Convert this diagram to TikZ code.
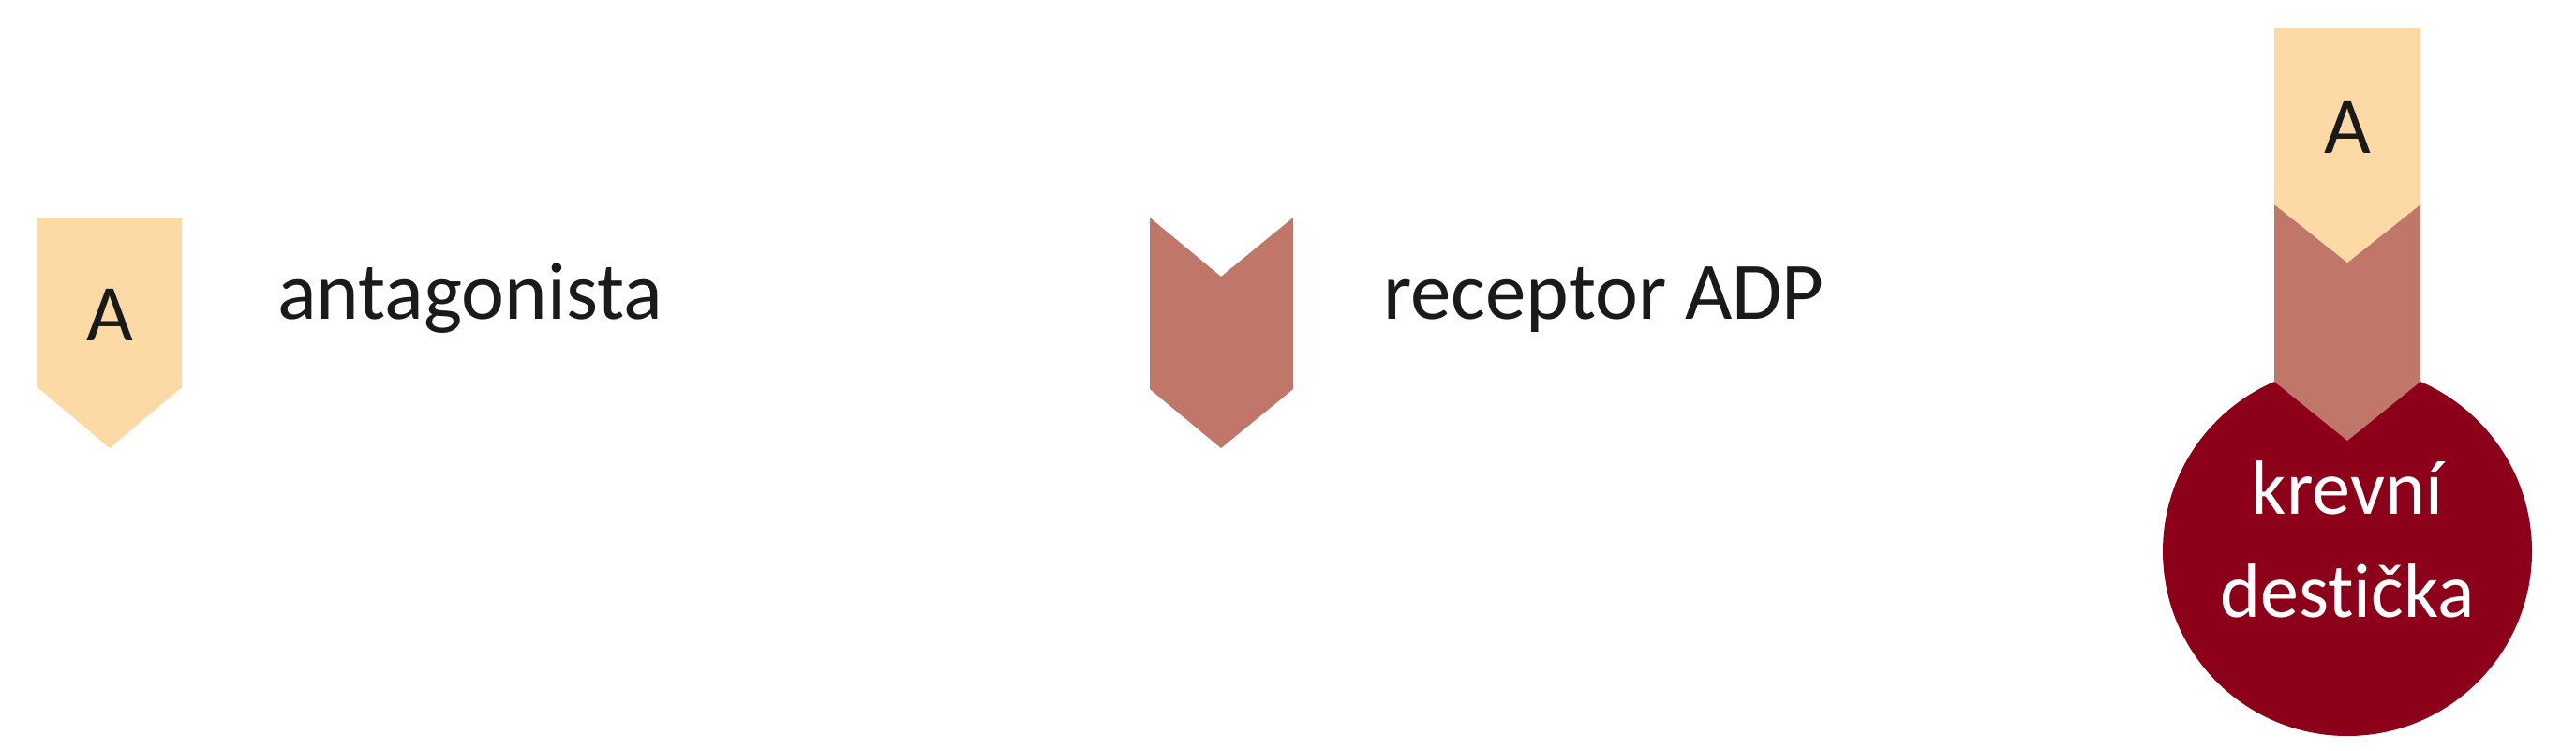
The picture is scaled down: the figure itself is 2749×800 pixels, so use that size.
\documentclass[tikz,border=0pt]{standalone}
\usepackage{fontspec}
\setmainfont[Ligatures=NoCommon]{Carlito}
\definecolor{peach}{HTML}{FDD9A6}
\definecolor{recep}{HTML}{C07668}
\definecolor{platelet}{HTML}{8C001A}
\definecolor{ink}{HTML}{1A1A1A}
\begin{document}
\begin{tikzpicture}[x=0.5pt,y=-0.5pt,
  lbl/.style={inner sep=0pt, outer sep=0pt, text=ink, font=\fontsize{43.5}{46}\selectfont},
  letterA/.style={inner sep=0pt, outer sep=0pt, text=ink, font=\fontsize{43}{44}\selectfont, anchor=base},
  cell/.style={inner sep=0pt, outer sep=0pt, text=white, font=\fontsize{41}{44}\selectfont, anchor=base}]
\useasboundingbox (0,0) rectangle (2749,800);
% legend: antagonist
\fill[peach] (40,232) -- (194,232) -- (194,413) -- (117,478) -- (40,413) -- cycle;
\node[letterA] (a1) at (117,363) {A};
\node[lbl, anchor=base west] (t1) at (296,340) {antagonista};
% legend: receptor
\fill[recep] (1227,232) -- (1303,295) -- (1380,232) -- (1380,415) -- (1303,478) -- (1227,415) -- cycle;
\node[lbl, anchor=base west] (t2) at (1476,340) {receptor ADP};
% bound complex
\node[circle, fill=platelet, minimum size=394pt*0.5, inner sep=0pt] (plt) at (2505,588) {};
\fill[recep] (2427,218) -- (2505,280) -- (2583,218) -- (2583,407) -- (2505,470) -- (2427,407) -- cycle;
\fill[peach] (2427,30) -- (2583,30) -- (2583,218) -- (2505,280) -- (2427,218) -- cycle;
\node[letterA] (a2) at (2505,163) {A};
\node[cell] (c1) at (2505,548) {krevní};
\node[cell] (c2) at (2505,658) {destička};
\end{tikzpicture}
\end{document}
